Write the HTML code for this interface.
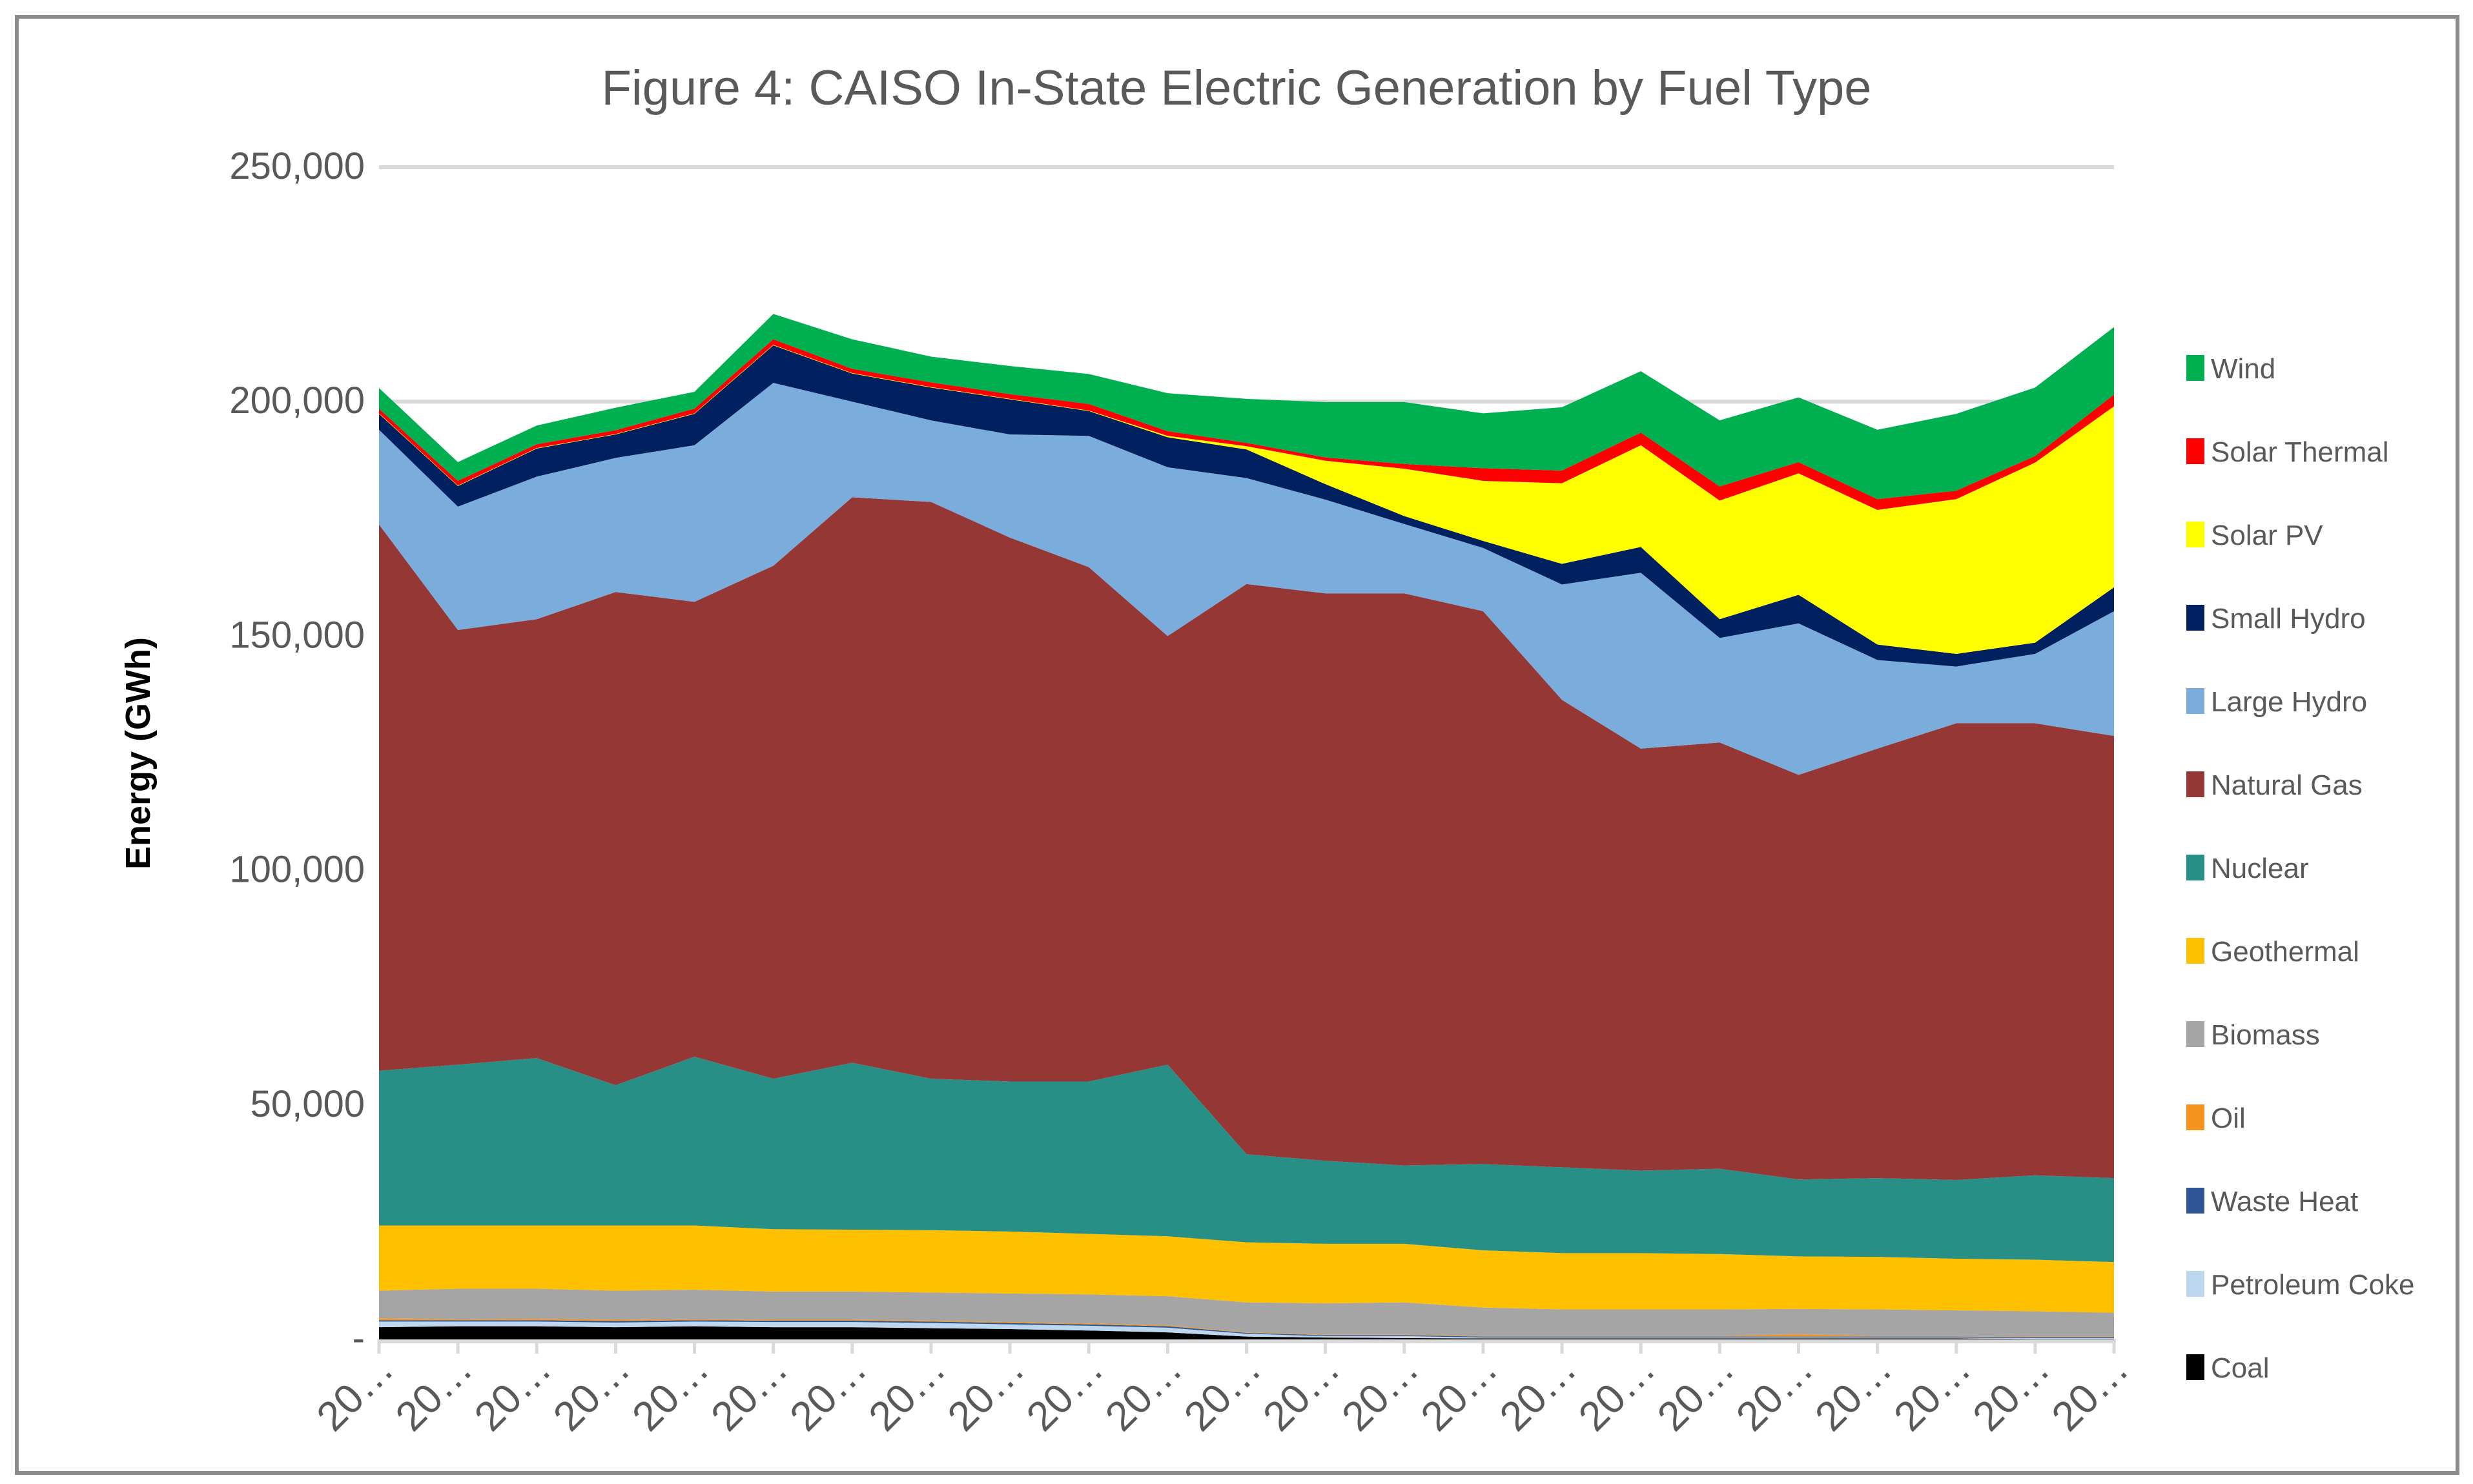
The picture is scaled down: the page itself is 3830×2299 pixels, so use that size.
<!DOCTYPE html>
<html><head><meta charset="utf-8"><style>
html,body{margin:0;padding:0;background:#fff;}
svg{display:block;font-family:"Liberation Sans",sans-serif;}
</style></head><body>
<svg id="chart" width="3830" height="2299" viewBox="0 0 3830 2299" xmlns="http://www.w3.org/2000/svg">
<rect x="26" y="26" width="3780" height="2256" fill="#fff" stroke="#8c8c8c" stroke-width="6"/>
<text x="1915" y="162" font-size="76" fill="#595959" text-anchor="middle">Figure 4: CAISO In-State Electric Generation by Fuel Type</text>
<text transform="translate(232,1167) rotate(-90)" font-size="54" font-weight="bold" fill="#000" text-anchor="middle">Energy (GWh)</text>
<g id="grid"></g><g id="areas"></g><g id="axes"></g><g id="legend"></g>
</svg>
<script>
const categories = ["2000","2001","2002","2003","2004","2005","2006","2007","2008","2009","2010","2011","2012","2013","2014","2015","2016","2017","2018","2019","2020","2021","2022"];
const coal = [2.6,2.8,2.8,2.6,2.8,2.6,2.6,2.4,2.2,1.9,1.5,0.6,0.4,0.3,0.2,0.2,0.2,0.2,0.2,0.2,0.2,0.1,0.1];
const petCoke = [1.2,1.0,1.0,1.0,1.0,1.1,1.1,1.1,1.0,1.0,1.0,0.6,0.3,0.4,0.2,0.2,0.2,0.2,0.2,0.2,0.2,0.2,0.2];
const wasteHeat = [0.3,0.3,0.3,0.3,0.3,0.3,0.3,0.3,0.3,0.3,0.3,0.2,0.2,0.2,0.2,0.2,0.2,0.2,0.2,0.2,0.2,0.2,0.2];
const oil = [0.4,0.2,0.3,0.3,0.2,0.2,0.2,0.2,0.2,0.2,0.2,0.1,0.1,0.1,0.1,0.1,0.1,0.1,0.5,0.1,0.1,0.1,0.1];
const biomass = [5.9,6.5,6.4,6.2,6.3,6.0,6.0,6.0,6.1,6.2,6.2,6.4,6.7,6.9,6.1,5.7,5.7,5.7,5.4,5.7,5.5,5.4,5.1];
const geothermal = [13.9,13.5,13.5,13.9,13.7,13.3,13.2,13.3,13.2,12.9,12.8,12.8,12.7,12.5,12.2,12.0,12.0,11.8,11.2,11.2,11.0,11.0,10.8];
const nuclear = [33.0,34.3,35.7,29.9,36.0,32.1,35.6,32.3,32.0,32.5,36.6,18.8,17.7,16.7,18.4,18.3,17.6,18.2,16.4,16.8,16.8,18.0,17.9];
const naturalGas = [116.5,92.7,93.6,105.2,97.0,109.4,120.6,123.0,116.0,109.7,91.4,121.6,121.0,122.0,117.9,99.7,90.0,90.9,86.3,91.6,97.4,96.4,94.3];
const largeHydro = [20.2,26.3,30.4,28.6,33.4,39.0,20.4,17.4,22.0,28.0,36.0,22.6,20.0,14.8,13.5,24.6,37.5,22.3,32.3,18.9,12.1,14.8,26.6];
const smallHydro = [3.4,4.4,6.0,5.0,6.7,8.0,6.0,7.0,7.5,5.3,6.4,6.1,3.3,1.7,1.5,4.4,5.5,4.0,6.1,3.3,2.7,2.4,5.1];
const solarPV = [0.1,0.1,0.1,0.1,0.1,0.1,0.1,0.1,0.1,0.1,0.3,0.7,5.0,10.1,12.8,17.2,21.7,25.3,25.9,28.7,33.0,38.4,38.6];
const solarThermal = [1.0,1.0,0.8,0.8,1.0,1.2,0.9,1.0,1.0,1.4,1.0,0.7,0.7,1.0,2.7,2.7,2.7,3.0,2.4,2.3,1.8,1.4,2.5];
const wind = [4.4,4.0,4.0,4.8,3.6,5.4,6.3,5.5,6.0,6.4,8.1,9.4,11.8,13.2,11.7,13.5,13.1,14.1,13.8,14.8,16.4,14.6,14.4];
const yTicks = [0,50000,100000,150000,200000,250000];
const yTickLabels = ["-","50,000","100,000","150,000","200,000","250,000"];

const NS="http://www.w3.org/2000/svg";
const X0=587,X1=3274,Y0=2075,Y1=259,YMAX=250000;
const xs=i=>X0+(X1-X0)*i/(categories.length-1);
const ys=v=>Y0-(Y0-Y1)*v/YMAX;
function mk(tag,attrs,parent){const e=document.createElementNS(NS,tag);for(const k in attrs)e.setAttribute(k,attrs[k]);parent.appendChild(e);return e;}
const grid=document.getElementById('grid'),areas=document.getElementById('areas'),axes=document.getElementById('axes'),legend=document.getElementById('legend');
yTicks.forEach((t,i)=>{
  if(t>0){const l=mk('line',{x1:X0,x2:X1,y1:ys(t),y2:ys(t),stroke:'#d9d9d9','stroke-width':6},grid);
  
  }
  const tx=mk('text',{x:565,y:ys(t)+18,'font-size':58,fill:'#595959','text-anchor':'end'},axes);
  tx.textContent=yTickLabels[i];
  
  
});
const series=[
 ["Coal",coal,"#000000"],["Petroleum Coke",petCoke,"#bdd7ee"],["Waste Heat",wasteHeat,"#2f5597"],["Oil",oil,"#f4931e"],
 ["Biomass",biomass,"#a5a5a5"],["Geothermal",geothermal,"#ffc000"],["Nuclear",nuclear,"#278f86"],["Natural Gas",naturalGas,"#953735"],
 ["Large Hydro",largeHydro,"#7aacdc"],["Small Hydro",smallHydro,"#002060"],["Solar PV",solarPV,"#ffff00"],["Solar Thermal",solarThermal,"#ff0000"],["Wind",wind,"#00b050"]];
let base=categories.map(()=>0);
series.forEach(([name,vals,col])=>{
  const top=base.map((b,i)=>b+vals[i]*1000);
  let d='M'+top.map((v,i)=>xs(i)+','+ys(v)).join(' L');
  for(let i=categories.length-1;i>=0;i--)d+=' L'+xs(i)+','+ys(base[i]);
  const p=mk('path',{d:d+'Z',fill:col},areas);
  
  
  base=top;
});
const ax=mk('line',{x1:X0,x2:X1+3,y1:Y0+3,y2:Y0+3,stroke:'#d9d9d9','stroke-width':6},axes);


categories.forEach((c,i)=>{
  const tk=mk('line',{x1:xs(i),x2:xs(i),y1:Y0,y2:Y0+22,stroke:'#d9d9d9','stroke-width':5},axes);
  
  
  const t=mk('text',{transform:`translate(${xs(i)+26},${Y0+50}) rotate(-45)`,'font-size':64,fill:'#595959','text-anchor':'end'},axes);
  t.textContent='20…';
  
  
});
series.slice().reverse().forEach(([name,vals,col],k)=>{
  const y=570+k*129;
  const g=mk('g',{},legend);
  
  
  mk('rect',{x:3386,y:y-20,width:28,height:40,fill:col},g);
  const t=mk('text',{x:3424,y:y+16,'font-size':44,fill:'#595959'},g);
  t.textContent=name;
});
</script>
</body></html>
